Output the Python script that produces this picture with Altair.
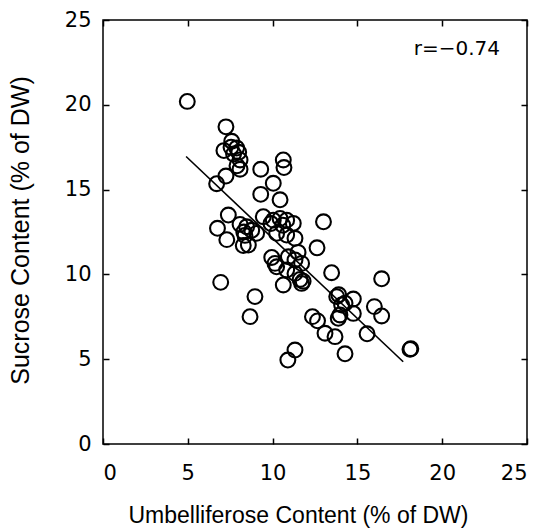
import altair as alt
import pandas as pd

# Umbelliferose (% of DW) vs Sucrose (% of DW)
umbelliferose = [4.97, 7.25, 7.59, 7.13, 7.88, 7.7, 8.0, 8.08, 8.08, 7.25,
                 6.70, 9.3, 10.63, 10.67, 10.04, 9.3, 10.44, 7.39, 6.75, 7.3,
                 8.08, 8.47, 8.37, 8.27, 8.57, 8.77, 9.06, 9.45, 10.04, 10.44,
                 10.83, 11.22, 10.24, 10.83, 11.32, 13.0, 12.62, 9.95, 10.14, 10.24,
                 10.93, 11.32, 11.71, 10.83, 11.32, 11.62, 11.71, 11.8, 10.63, 13.48,
                 6.94, 8.96, 8.67, 13.78, 14.27, 14.76, 13.87, 14.07, 14.76, 12.35,
                 12.65, 13.09, 13.68, 13.97, 15.57, 16.0, 16.43, 16.43, 14.27, 11.32,
                 10.9, 18.1, 18.15, 7.55, 7.9, 8.3, 10.6, 11.5, 9.9, 13.9]
sucrose = [20.2, 18.7, 17.85, 17.3, 17.45, 17.1, 17.2, 16.75, 16.2, 15.8,
           15.35, 16.2, 16.75, 16.3, 15.37, 14.72, 14.4, 13.5, 12.72, 12.05,
           12.95, 12.81, 12.3, 11.7, 11.73, 12.6, 12.42, 13.4, 13.2, 13.3,
           13.2, 13.01, 12.42, 12.32, 12.13, 13.1, 11.57, 11.0, 10.65, 10.45,
           11.04, 10.85, 10.65, 10.26, 10.06, 9.7, 9.47, 9.6, 9.38, 10.1,
           9.53, 8.69, 7.51, 8.69, 8.3, 8.55, 7.41, 8.2, 7.7, 7.51,
           7.26, 6.53, 6.33, 7.61, 6.5, 8.1, 9.74, 7.55, 5.32, 5.54,
           4.95, 5.58, 5.62, 17.5, 16.4, 12.5, 12.9, 11.3, 13.0, 8.8]

# regression line end points
fit_x = [4.9, 17.7]
fit_y = [16.95, 4.85]

tick_values = [0, 5, 10, 15, 20, 25]
annotation = "r=\u22120.74"

pts = pd.DataFrame({"u": umbelliferose, "s": sucrose})
fit = pd.DataFrame({"u": fit_x, "s": fit_y})

xscale = alt.Scale(domain=[0, 25], nice=False, zero=False)
yscale = alt.Scale(domain=[0, 25], nice=False, zero=False)

points = alt.Chart(pts).mark_point(
    shape="circle", filled=False, color="black", size=220, strokeWidth=2.1, opacity=1
).encode(
    x=alt.X("u:Q", scale=xscale, axis=alt.Axis(
        orient="bottom", values=tick_values, offset=-6, tickSize=6, tickWidth=1.5,
        tickColor="black", domain=False, grid=False, labelPadding=18,
        labelFont="DejaVu Sans", labelFontSize=21, labelColor="black",
        title="Umbelliferose Content (% of DW)", titleFont="Liberation Sans",
        titleFontSize=23, titleFontWeight="normal", titleColor="black",
        titleX=195, titleY=84, titleBaseline="alphabetic", titleAlign="center")),
    y=alt.Y("s:Q", scale=yscale, axis=alt.Axis(
        orient="left", values=tick_values, offset=-6, tickSize=6, tickWidth=1.5,
        tickColor="black", domain=False, grid=False, labelPadding=12,
        labelFont="DejaVu Sans", labelFontSize=21, labelColor="black",
        title="Sucrose Content (% of DW)", titleFont="Liberation Sans",
        titleFontSize=25, titleFontWeight="normal", titleColor="black",
        titleX=-81, titleY=210, titleAngle=270, titleBaseline="alphabetic",
        titleAlign="center")),
)

line = alt.Chart(fit).mark_line(color="black", strokeWidth=1.6).encode(
    x=alt.X("u:Q", scale=xscale, axis=alt.Axis(
        orient="top", values=tick_values, offset=-6, tickSize=6, tickWidth=1.5,
        tickColor="black", domain=False, grid=False, labels=False, title=None)),
    y=alt.Y("s:Q", scale=yscale, axis=alt.Axis(
        orient="right", values=tick_values, offset=-6, tickSize=6, tickWidth=1.5,
        tickColor="black", domain=False, grid=False, labels=False, title=None)),
)

label = alt.Chart(pd.DataFrame({"t": [annotation]})).mark_text(
    font="DejaVu Sans", fontSize=20, color="black", align="right", baseline="alphabetic"
).encode(text="t:N", x=alt.value(397), y=alt.value(35))

chart = alt.layer(points, line, label).resolve_scale(
    x="shared", y="shared"
).resolve_axis(
    x="independent", y="independent"
).properties(
    width=424, height=424,
    autosize=alt.AutoSizeParams(type="none"),
    padding={"left": 103, "top": 20, "right": 14, "bottom": 84},
    background="white",
).configure_view(stroke="black", strokeWidth=1.5)

chart.save("out.html", embed_options={"renderer": "svg", "actions": False})
